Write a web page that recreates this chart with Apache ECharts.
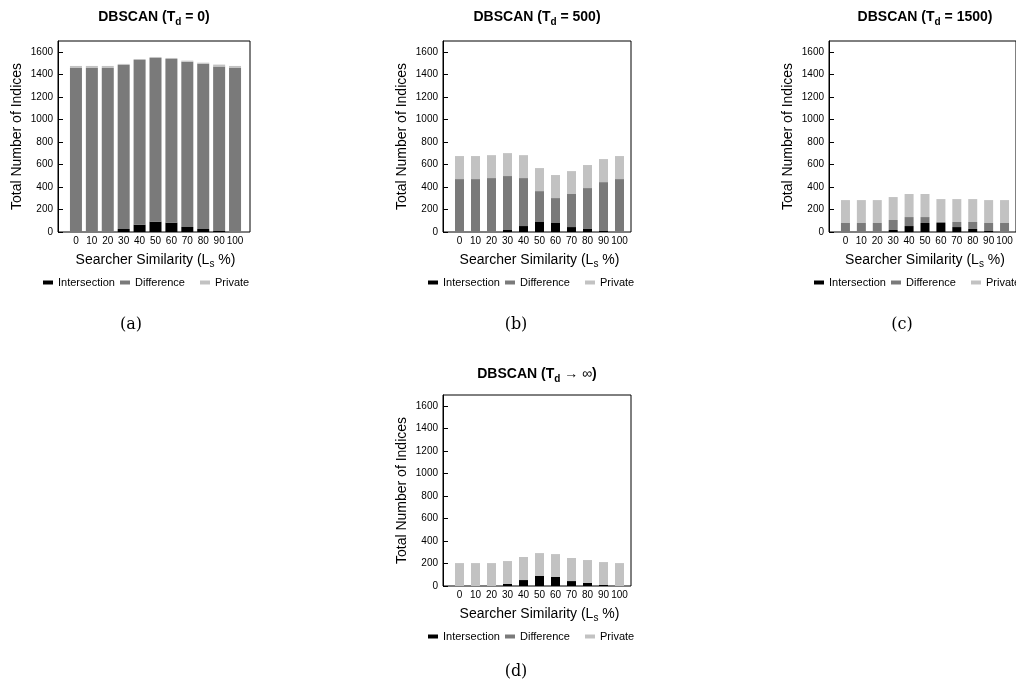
<!DOCTYPE html>
<html><head><meta charset="utf-8">
<script src="https://cdn.jsdelivr.net/npm/echarts@6/dist/echarts.min.js"></script>
<style>html,body{margin:0;padding:0;background:#fff}#c{width:1016px;height:689px}</style>
</head><body><div id="c"></div>
<script>
// ---- data ----
const categories = ['0','10','20','30','40','50','60','70','80','90','100'];
const seriesNames = ['Intersection','Difference','Private'];

// (a) T_d = 0
const aIntersection = [0,0,0,27,65,92,83,45,27,9,0];
const aDifference   = [1460,1460,1460,1460,1466,1457,1457,1471,1471,1463,1460];
const aPrivate      = [18,18,18,9,9,9,9,9,9,18,18];
// (b) T_d = 500
const bIntersection = [0,0,0,18,53,89,80,44,27,9,0];
const bDifference   = [471,471,480,480,427,275,222,294,364,435,471];
const bPrivate      = [205,205,204,204,204,205,205,204,205,205,205];
// (c) T_d = 1500
const cIntersection = [0,0,0,18,53,80,80,44,27,9,0];
const cDifference   = [80,80,80,89,80,53,12,45,62,71,80];
const cPrivate      = [204,204,204,204,205,205,201,204,204,204,204];
// (d) T_d -> infinity
const dIntersection = [0,0,0,18,53,89,80,44,27,9,0];
const dDifference   = [0,0,0,0,0,0,0,0,0,0,0];
const dPrivate      = [204,204,204,204,205,204,204,205,204,204,204];

const titleTexts = ['{m|DBSCAN (T}{s|d}{m| = 0)}', '{m|DBSCAN (T}{s|d}{m| = 500)}',
                    '{m|DBSCAN (T}{s|d}{m| = 1500)}', '{m|DBSCAN (T}{s|d}{n| \u2192 \u221e}{m|)}'];
const captionTexts = ['(a)','(b)','(c)','(d)'];
const yAxisName = 'Total Number of Indices';
const xAxisName = '{m|Searcher Similarity (L}{s|s}{m| %)}';

// ---- styles / layout ----
const FONT = 'Liberation Sans';
const colors = ['#000000','#7a7a7a','#c2c2c2'];
const panels = [
  {key:'a', data:[aIntersection,aDifference,aPrivate], frame:{left:58,top:41,width:192,height:191}, bars:{left:68,width:175}, barWidth:12, titleX:154, titleY:7, capX:131, capY:317, legendTop:277},
  {key:'b', data:[bIntersection,bDifference,bPrivate], frame:{left:443,top:41,width:188,height:191}, bars:{left:451.5,width:176}, barWidth:9, titleX:537, titleY:7, capX:516, capY:317, legendTop:277},
  {key:'c', data:[cIntersection,cDifference,cPrivate], frame:{left:829,top:41,width:194,height:191}, bars:{left:837.5,width:175}, barWidth:9, titleX:925, titleY:7, capX:902, capY:317, legendTop:277},
  {key:'d', data:[dIntersection,dDifference,dPrivate], frame:{left:443,top:395,width:188,height:191}, bars:{left:451.5,width:176}, barWidth:9, titleX:537, titleY:364, capX:516, capY:664, legendTop:631}
];
const legendOffsets = [-15, 62, 142];

const grid = [], xAxis = [], yAxis = [], series = [], legend = [], title = [];
panels.forEach((p, pi) => {
  const gF = grid.length;
  grid.push({left:p.frame.left, top:p.frame.top, width:p.frame.width, height:p.frame.height,
             show:true, borderColor:'#000', borderWidth:1, backgroundColor:'transparent', containLabel:false});
  grid.push({left:p.bars.left, top:p.frame.top, width:p.bars.width, height:p.frame.height, show:false, containLabel:false});
  const gB = gF + 1;
  xAxis.push({gridIndex:gF, type:'value', min:0, max:1, show:false});
  xAxis.push({gridIndex:gB, type:'category', data:categories,
    axisLine:{show:false}, axisTick:{show:false},
    axisLabel:{interval:0, fontSize:10, color:'#000', margin:4, fontFamily:FONT},
    name:xAxisName, nameLocation:'middle', nameGap:19,
    nameTextStyle:{color:'#000', fontFamily:FONT, rich:{
      m:{fontSize:14, color:'#000', fontFamily:FONT, lineHeight:18},
      s:{fontSize:10, color:'#000', fontFamily:FONT, lineHeight:9, verticalAlign:'bottom'}}}
  });
  yAxis.push({gridIndex:gF, type:'value', min:0, max:1700, interval:200,
    axisLine:{show:true, lineStyle:{color:'#000', width:1}},
    axisTick:{show:true, inside:true, length:5, lineStyle:{color:'#000'}},
    axisLabel:{fontSize:10, color:'#000', margin:5, fontFamily:FONT, showMaxLabel:false,
               formatter: v => (v > 1600 ? '' : String(v))},
    splitLine:{show:false},
    name:yAxisName, nameLocation:'middle', nameGap:34,
    nameTextStyle:{fontSize:14, color:'#000', fontFamily:FONT}
  });
  yAxis.push({gridIndex:gB, type:'value', min:0, max:1700, show:false, splitLine:{show:false}});
  const xi = xAxis.length - 1, yi = yAxis.length - 1;
  seriesNames.forEach((nm, si) => {
    series.push({type:'bar', name:nm, xAxisIndex:xi, yAxisIndex:yi, stack:p.key,
      data:p.data[si], barWidth:p.barWidth, itemStyle:{color:colors[si]},
      emphasis:{disabled:true}, animation:false});
    legend.push({data:[nm], left:p.frame.left + legendOffsets[si], top:p.legendTop,
      itemWidth:10, itemHeight:4, itemGap:0, padding:0, icon:'rect', selectedMode:false,
      textStyle:{fontSize:11, color:'#000', fontFamily:FONT}});
  });
  title.push({text:titleTexts[pi], left:p.titleX, top:p.titleY, textAlign:'center', padding:0,
    textStyle:{fontFamily:FONT, rich:{
      m:{fontSize:14, fontWeight:'bold', color:'#000', fontFamily:FONT, lineHeight:20},
      n:{fontSize:14, fontWeight:'normal', color:'#000', fontFamily:FONT, lineHeight:20},
      s:{fontSize:10, fontWeight:'bold', color:'#000', fontFamily:FONT, lineHeight:10, verticalAlign:'bottom'}}}});
  title.push({text:captionTexts[pi], left:p.capX, top:p.capY, textAlign:'center', padding:0,
    textStyle:{fontFamily:'DejaVu Serif', fontSize:16, fontWeight:'normal', color:'#000', lineHeight:16}});
});

const chart = echarts.init(document.getElementById('c'), null, {renderer:'canvas'});
chart.setOption({backgroundColor:'#fff', animation:false, title, grid, xAxis, yAxis, series, legend, tooltip:{show:false}});
</script></body></html>
